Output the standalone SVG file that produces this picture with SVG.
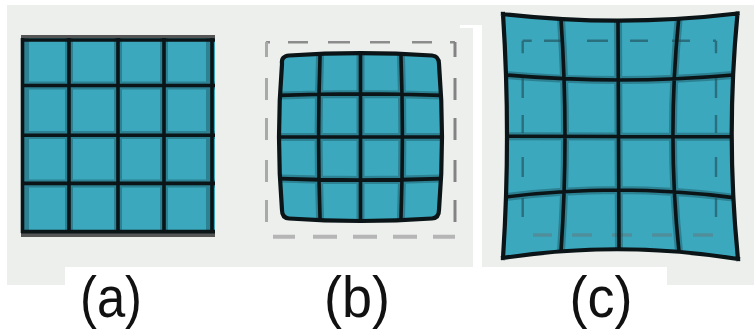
<svg xmlns="http://www.w3.org/2000/svg" width="754" height="329" viewBox="0 0 754 329">
<style>
.bg{fill:#ecefec}
.cell{fill:#3ba8be}
.halo{fill:none;stroke:#1d5a66;stroke-width:8;stroke-opacity:.5}
.ln{fill:none;stroke:#0b1417;stroke-width:3.6}
.edge{fill:none;stroke:#0b1417;stroke-width:4.2;stroke-linecap:square}
.lbl{font-family:"Liberation Sans",Arial,sans-serif;font-size:58px;fill:#111;text-anchor:middle}
.dt{fill:none;stroke:#8c8c8c;stroke-width:2.6}
.dl{fill:none;stroke:#a9a9a9;stroke-width:3}
.dr{fill:none;stroke:#838383;stroke-width:3}
.db{fill:none;stroke:#b5b5b5;stroke-width:4}
.ct{fill:none;stroke:#2a6f7e;stroke-width:2.4}
.cb{fill:none;stroke:#4f8e9a;stroke-width:3.4}
</style>
<rect width="754" height="329" fill="#fff"/>
<g id="background">
<rect class="bg" x="7" y="5" width="466" height="262"/>
<rect class="bg" x="7" y="267" width="58" height="18"/>
<rect class="bg" x="473" y="5" width="9" height="20"/>
<rect class="bg" x="482" y="5" width="272" height="262"/>
<rect class="bg" x="667" y="267" width="87" height="18"/>
<rect x="460" y="25" width="13" height="3" fill="#fff"/>
</g>
<g id="panel-a">
<rect x="21" y="35" width="194" height="3" fill="#555"/>
<rect x="21" y="233" width="194" height="4" fill="#555"/>
<rect class="cell" x="21" y="38" width="194" height="195"/>
<path class="halo" d="M69,38V233M118,38V233M164,38V233M21,85.5H215M21,135H215M21,183.5H215M25,38V233M210,38V233"/>
<path class="ln" d="M22.5,38V233M69,38V233M118,38V233M164,38V233M212,38V233M21,40H215M21,85.5H215M21,135.2H215M21,183.4H215M21,231.6H215"/>
</g>
<g id="panel-b">
<path class="dt" d="M266,42.3H270M288,42.3H308M328,42.3H350M370,42.3H390M412,42.3H432M450,42.3H455"/>
<path class="dl" d="M266.5,42V57M266.5,78V100M266.5,118V140M266.5,160V182M266.5,200V222"/>
<path class="dr" d="M455,42V57M455,78V100M455,118V140M455,160V182M455,200V222"/>
<path class="db" d="M273,236.7H295M313,236.7H337M353,236.7H377M393,236.7H417M433,236.7H455"/>
<path class="cell" d="M282,64 Q281,56 289,55.5 Q360.5,50.8 432,55.5 Q439,56 439,64 Q445,137 439,210 Q439,218 432,218.5 Q360.5,223.5 289,218.5 Q282,218 282,210 Q276,137 282,64 Z"/>
<path class="halo" d="M320.1,53.9 Q317.1,137 320.1,220.1M360.5,53.1V220.9M400.9,53.9 Q403.9,137 400.9,220.1M279.8,95.4 Q360.5,92.4 441.2,95.4M279,137H442M279.8,178.6 Q360.5,181.6 441.2,178.6"/>
<path class="ln" d="M320.1,53.9 Q317.1,137 320.1,220.1M360.5,53.1V220.9M400.9,53.9 Q403.9,137 400.9,220.1M279.8,95.4 Q360.5,92.4 441.2,95.4M279,137H442M279.8,178.6 Q360.5,181.6 441.2,178.6"/>
<path class="edge" d="M282,64 Q281,56 289,55.5 Q360.5,50.8 432,55.5 Q439,56 439,64 Q445,137 439,210 Q439,218 432,218.5 Q360.5,223.5 289,218.5 Q282,218 282,210 Q276,137 282,64 Z"/>
</g>
<g id="panel-c">
<path class="cell" d="M503,14 Q620,27.4 737.5,13.5 Q725.7,136.3 738,259 Q620,240 503,258 Q511,136 503,14 Z"/>
<path class="ct" d="M522.7,40.7H531.7M544,40.7H562M587,40.7H608M630,40.7H648M672,40.7H690M713,40.7H716M522.7,40.7V53.3M522.7,75V98M522.7,115V133M522.7,157V177M522.7,198V217M716,40.7V53.3M716,75V98M716,115V133M716,157V177M716,198V217"/>
<path class="cb" d="M533,235H552M572,235H592M612,235H632M652,235H672M693,235H713"/>
<path class="halo" d="M561,19 Q569,136.3 561,251.3M618,20.7L619,249M678.7,18.7 Q667,136.3 679,251.8M506,75 Q620,85 733,75M507,136.3L731.7,136.8M506,197 Q620,182.7 733.3,197.6"/>
<path class="ln" d="M561,19 Q569,136.3 561,251.3M618,20.7L619,249M678.7,18.7 Q667,136.3 679,251.8M506,75 Q620,85 733,75M507,136.3L731.7,136.8M506,197 Q620,182.7 733.3,197.6"/>
<path class="edge" d="M503,14 Q620,27.4 737.5,13.5M737.5,13.5 Q725.7,136.3 738,259M738,259 Q620,240 503,258M503,258 Q511,136 503,14"/>
</g>
<g id="labels">
<text class="lbl" x="111" y="316.5" textLength="62" lengthAdjust="spacingAndGlyphs">(a)</text>
<text class="lbl" x="357" y="316.5" textLength="66" lengthAdjust="spacingAndGlyphs">(b)</text>
<text class="lbl" x="601" y="316.5" textLength="63" lengthAdjust="spacingAndGlyphs">(c)</text>
</g>
</svg>
